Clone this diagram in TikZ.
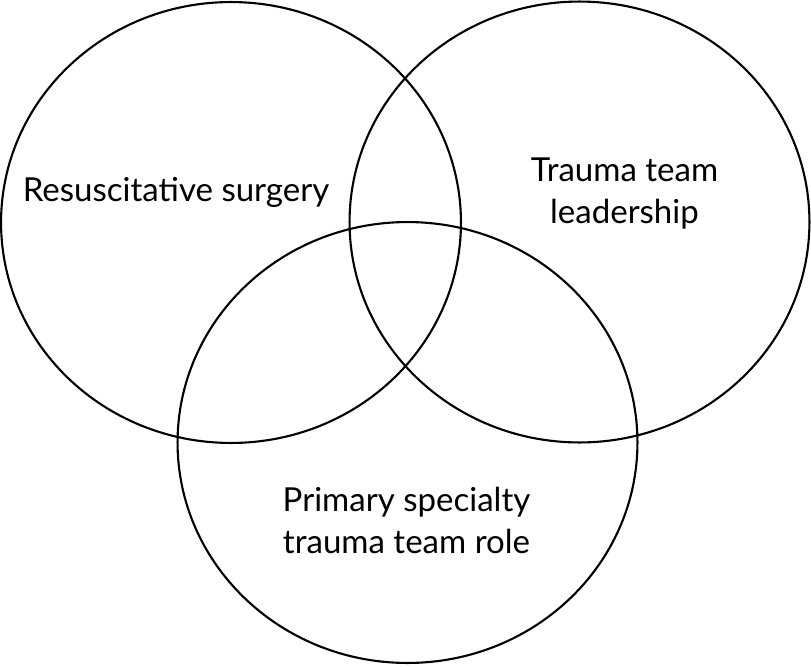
\documentclass[tikz,border=0pt]{standalone}
\usepackage{fontspec}
\setmainfont{Lato}
\usetikzlibrary{shapes.geometric}

\begin{document}
\begin{tikzpicture}[x=0.02cm, y=-0.02cm,
  ring/.style={ellipse, draw=black, line width=1.2pt, inner sep=0pt,
               minimum width=9.2cm, minimum height=8.82cm},
  tlabel/.style={font=\fontsize{18.8}{24}\selectfont, align=center, text=black}
]
\useasboundingbox (0,0) rectangle (811,666);

% Circles
\node[ring] (surg) at (231,222.5) {};
\node[ring] (lead) at (579.5,222) {};
\node[ring] (role) at (407.5,442.5) {};

% Labels
\node[tlabel] (surgtxt) at (176,192.5) {Resuscitative surgery};
\node[tlabel] (leadtxt) at (624.5,193.5) {Trauma team\\leadership};
\node[tlabel] (roletxt) at (406.5,520.5) {Primary specialty\\trauma team role};
\end{tikzpicture}
\end{document}
